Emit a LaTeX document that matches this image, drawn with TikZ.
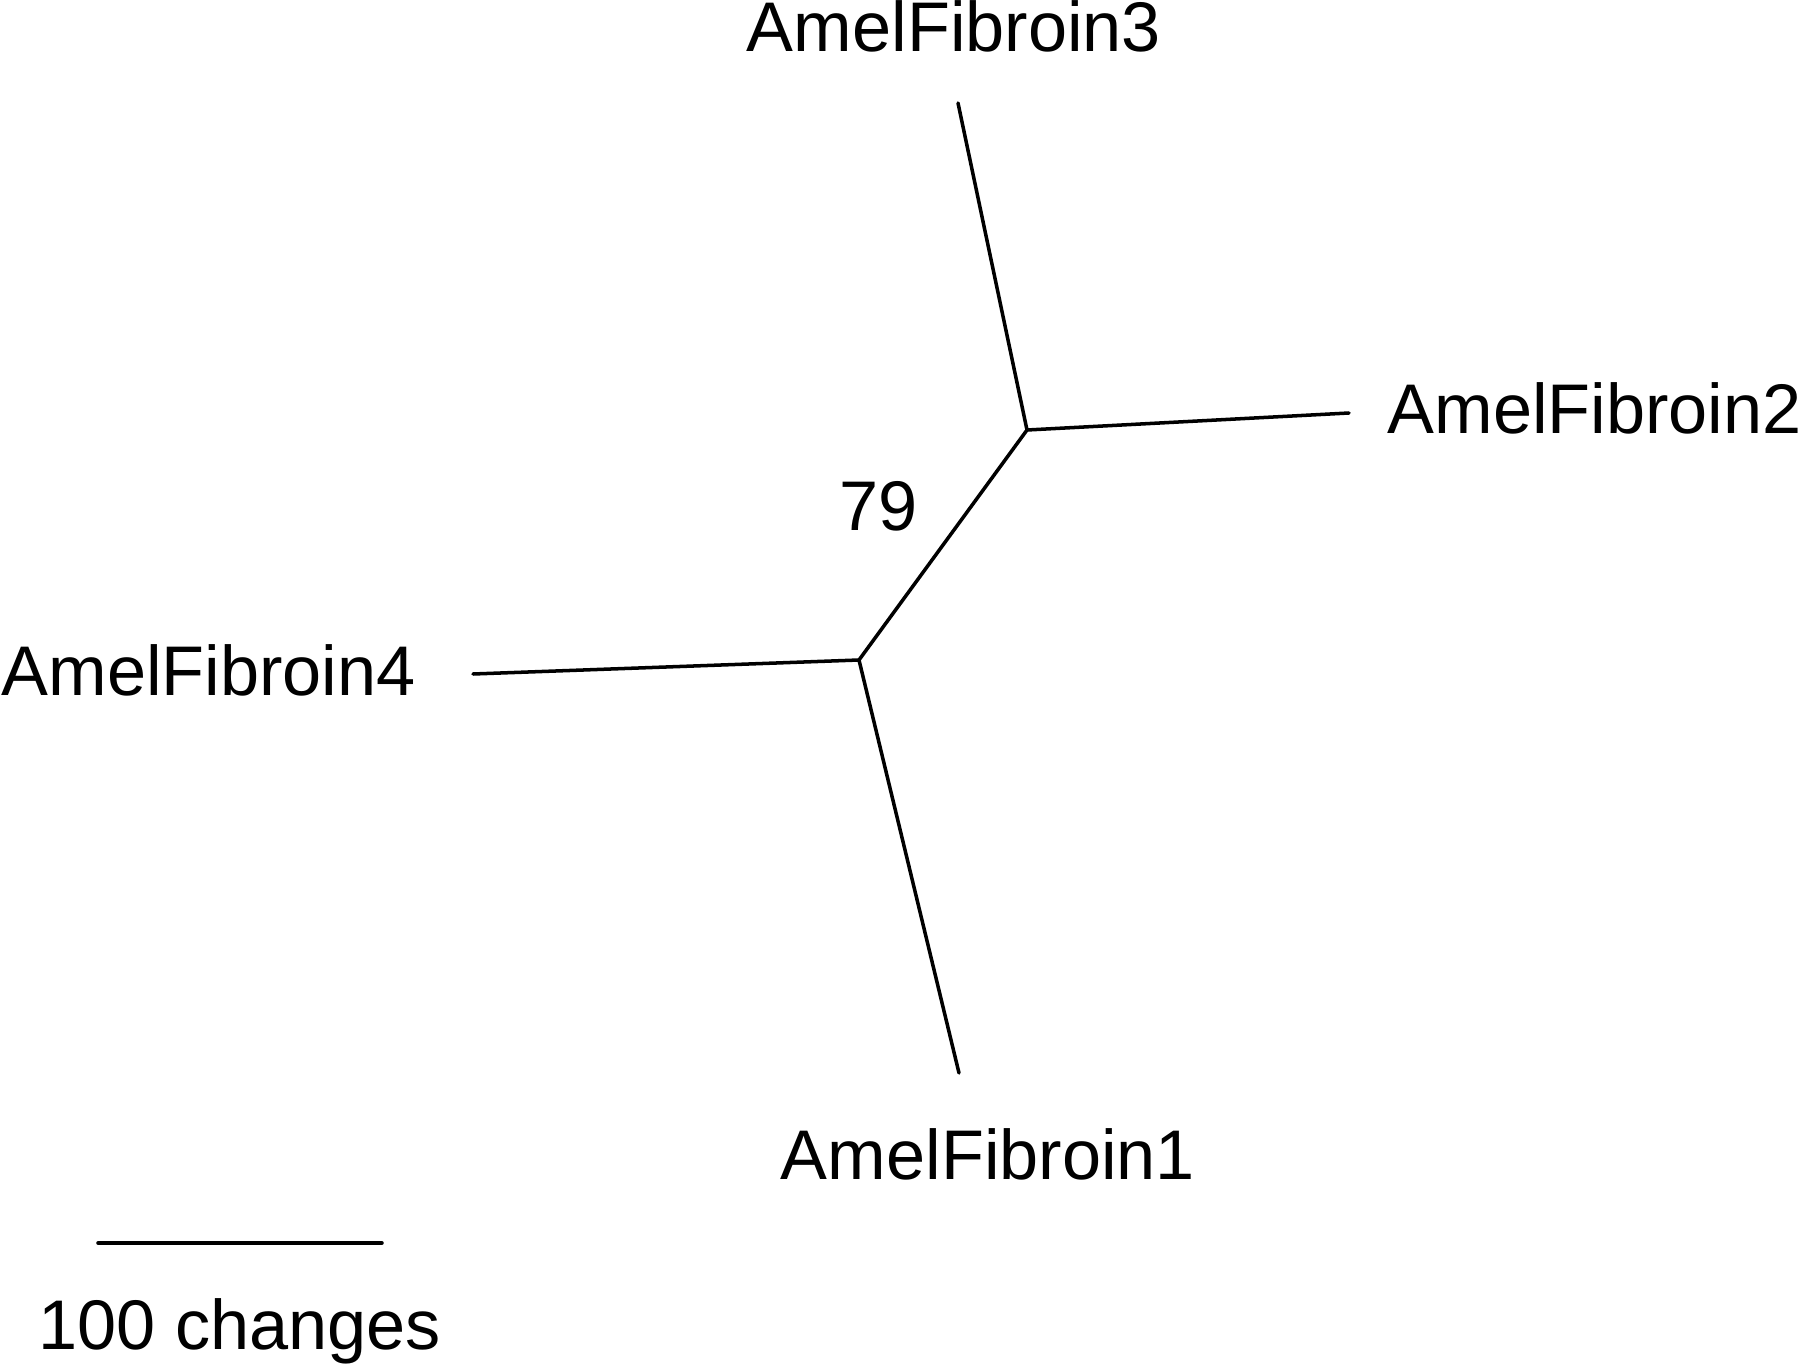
\documentclass[tikz,border=0pt]{standalone}
\usepackage{fontspec}
\setmainfont{Liberation Sans}
\usepackage{tikz}

\begin{document}
\begin{tikzpicture}[x=0.02cm,y=-0.02cm,line width=2pt,line cap=round]
	\tikzstyle{taxon}=[inner sep=0pt,font=\fontsize{40}{48}\selectfont];
	\tikzstyle{branch}=[draw,black];
	\useasboundingbox (0,0) rectangle (1800,1365);
	%% Internal Nodes
	\coordinate (up) at (1027,430);
	\coordinate (lo) at (859,660);
	%% Tips
	\coordinate (t1) at (959,1073);
	\coordinate (t2) at (1349,413);
	\coordinate (t3) at (958,103);
	\coordinate (t4) at (473,674);
	%% Branches
	\draw[branch] (up) -- (t3);
	\draw[branch] (up) -- (t2);
	\draw[branch] (up) -- (lo);
	\draw[branch] (lo) -- (t4);
	\draw[branch] (lo) -- (t1);
	%% Labels
	\node[taxon,anchor=base] (f3) at (954,52) {AmelFibroin3};
	\node[taxon,anchor=base west] (f2) at (1386,434) {AmelFibroin2};
	\node[taxon,anchor=base west] (f4) at (0,695) {AmelFibroin4};
	\node[taxon,anchor=base] (f1) at (988,1179) {AmelFibroin1};
	\node[taxon,anchor=base] (boot) at (879,530) {79};
	%% Scale Bar
	\coordinate (s1) at (98,1243);
	\coordinate (s2) at (382,1243);
	\draw[branch] (s1) -- (s2);
	\node[taxon,anchor=base west] (sc) at (37,1349) {100 changes};
\end{tikzpicture}
\end{document}
